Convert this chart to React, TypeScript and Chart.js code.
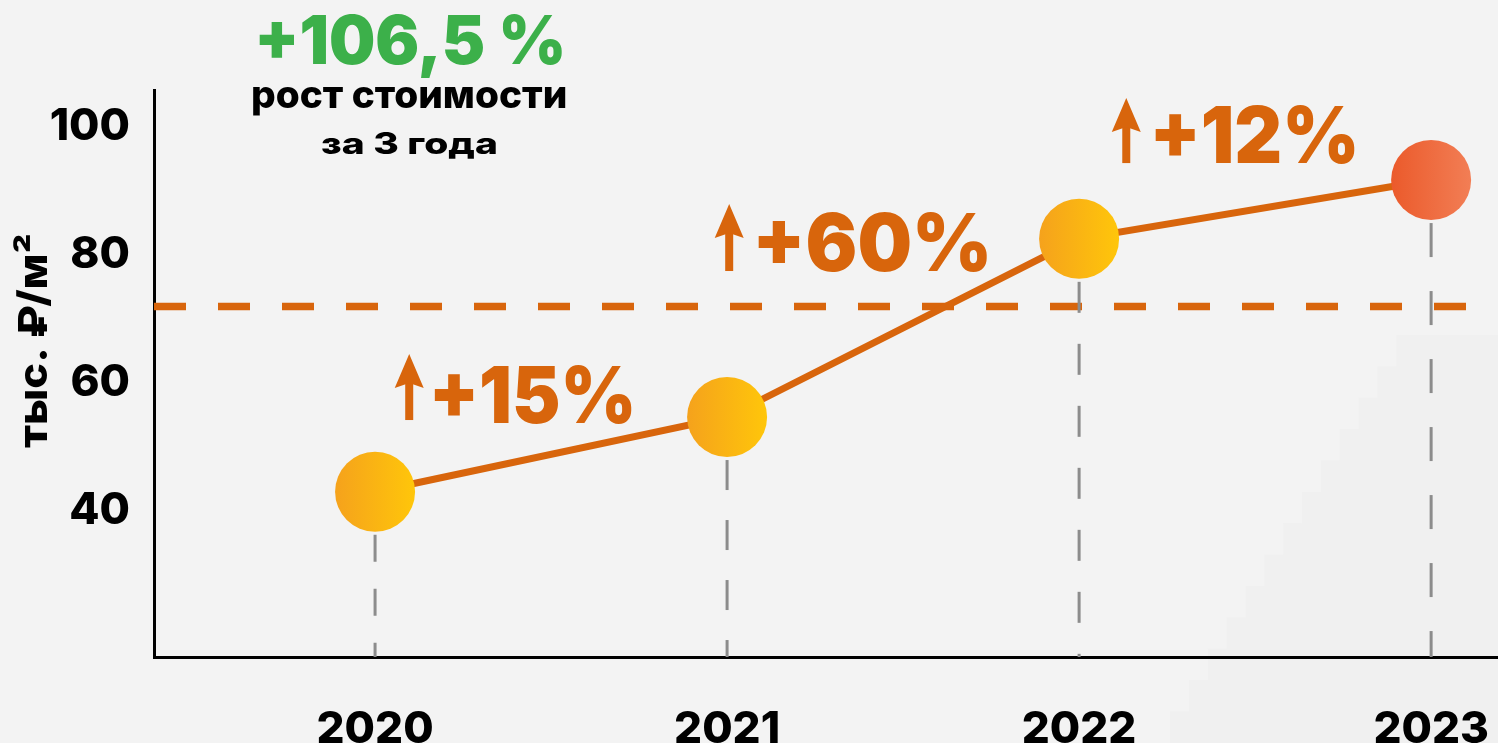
import React, { useEffect, useRef } from "react";
import { Chart, registerables } from "chart.js";

Chart.register(...registerables);

// ---------- data ----------
const years = [2020, 2021, 2022, 2023];
const prices = [42.9, 54.6, 82.5, 91.7]; // тыс. ₽/м²
const referenceLevel = 71.9;
const yTickValues = [40, 60, 80, 100];
const growthLabels = ["+15%", "+60%", "+12%"];
const totalGrowth = "+106,5 %";
const subtitleLines = ["рост стоимости", "за 3 года"];
const yAxisTitle = "тыс. ₽/м²";

// ---------- layout / style (not data) ----------
const X_MIN = 2019.372;
const X_MAX = 2023.19;
const Y_MIN = 17.03;
const Y_MAX = 105.8;
const REF_END_X = 2023.1;
const FONT = '"Inter", "DejaVu Sans", sans-serif';
const ORANGE = "#d8650c";
const GREEN = "#3cb04a";
const YELLOW_STOPS = ["#f5a21c", "#ffc60a"];
const RED_STOPS = ["#eb5a2b", "#f27e55"];
const POINT_R = 40;
const guideDashes = [[27, 27], [30, 30], [31, 31], [34, 34]];

// annotation boxes in data coordinates
const growthLayout = [
  { arrowX: 2020.097, left: 2020.168, right: 2020.73, top: 62.74, base: 53.66, aTop: 64.46, aBot: 54.13 },
  { arrowX: 2021.006, left: 2021.088, right: 2021.739, top: 86.69, base: 77.46, aTop: 87.95, aBot: 77.46 },
  { arrowX: 2022.134, left: 2022.216, right: 2022.784, top: 103.44, base: 94.36, aTop: 104.54, aBot: 94.36 },
];

function drawFitted(
  ctx: CanvasRenderingContext2D,
  text: string,
  left: number,
  right: number,
  top: number,
  base: number,
  weight: string,
  color: string
) {
  ctx.save();
  ctx.textAlign = "left";
  ctx.textBaseline = "alphabetic";
  ctx.font = `${weight} 100px ${FONT}`;
  let m = ctx.measureText(text);
  const asc = m.actualBoundingBoxAscent || 72;
  const size = (100 * (base - top)) / asc;
  ctx.font = `${weight} ${size}px ${FONT}`;
  m = ctx.measureText(text);
  const gw = (m.actualBoundingBoxLeft || 0) + (m.actualBoundingBoxRight || m.width);
  const sx = (right - left) / gw;
  ctx.translate(left + (m.actualBoundingBoxLeft || 0) * sx, base);
  ctx.scale(sx, 1);
  ctx.fillStyle = color;
  ctx.fillText(text, 0, 0);
  ctx.restore();
}

const overlayPlugin = {
  id: "overlay",
  beforeDraw(chart: any) {
    const { ctx, width, height } = chart;
    ctx.save();
    ctx.fillStyle = "#f3f3f3";
    ctx.fillRect(0, 0, width, height);
    // faint stair-step background shading at the right
    ctx.fillStyle = "#f0f0f0";
    ctx.beginPath();
    ctx.moveTo(1170, height);
    let x = 1170;
    let y = height;
    const steps = 13;
    for (let i = 0; i < steps; i++) {
      y -= (743 - 335) / steps;
      ctx.lineTo(x, y);
      x += (1415 - 1170) / steps;
      ctx.lineTo(x, y);
    }
    ctx.lineTo(width, y);
    ctx.lineTo(width, height);
    ctx.closePath();
    ctx.fill();
    ctx.restore();
  },
  afterDatasetDraw(chart: any, args: any) {
    if (args.index !== 1) return;
    const meta = chart.getDatasetMeta(0);
    const bottom = chart.chartArea.bottom;
    const ctx = chart.ctx;
    ctx.save();
    ctx.strokeStyle = "#8c8c8c";
    ctx.lineWidth = 3;
    meta.data.forEach((pt: any, i: number) => {
      ctx.setLineDash(guideDashes[i] || [30, 30]);
      ctx.beginPath();
      ctx.moveTo(pt.x, pt.y + POINT_R + 3);
      ctx.lineTo(pt.x, bottom);
      ctx.stroke();
    });
    ctx.restore();
  },
  afterDatasetsDraw(chart: any) {
    const ctx = chart.ctx;
    const xs = chart.scales.x;
    const ys = chart.scales.y;
    // growth annotations
    growthLayout.forEach((g, i) => {
      const ax = xs.getPixelForValue(g.arrowX);
      const aTop = ys.getPixelForValue(g.aTop);
      const aBot = ys.getPixelForValue(g.aBot);
      ctx.save();
      ctx.fillStyle = ORANGE;
      const headH = 34;
      const notch = 5;
      const half = 14.5;
      ctx.fillRect(ax - 4, aTop + headH - notch - 1, 8, aBot - (aTop + headH - notch - 1));
      ctx.beginPath();
      ctx.moveTo(ax, aTop);
      ctx.lineTo(ax + half, aTop + headH);
      ctx.lineTo(ax, aTop + headH - notch);
      ctx.lineTo(ax - half, aTop + headH);
      ctx.closePath();
      ctx.fill();
      ctx.restore();
      drawFitted(
        ctx,
        growthLabels[i],
        xs.getPixelForValue(g.left),
        xs.getPixelForValue(g.right),
        ys.getPixelForValue(g.top),
        ys.getPixelForValue(g.base),
        "900",
        ORANGE
      );
    });
    // headline
    drawFitted(ctx, totalGrowth, 259, 562, 14, 64, "900", GREEN);
    drawFitted(ctx, subtitleLines[0], 253, 566, 87, 108, "800", "#000");
    drawFitted(ctx, subtitleLines[1], 321, 496, 132, 154, "800", "#000");
    // y axis title (rotated)
    ctx.save();
    ctx.translate(47, 448);
    ctx.rotate(-Math.PI / 2);
    drawFitted(ctx, yAxisTitle, 0, 213, -34, 0, "800", "#000");
    ctx.restore();
  },
};

function pointFill(c: any) {
  const stops = c.dataIndex === prices.length - 1 ? RED_STOPS : YELLOW_STOPS;
  const chart = c.chart;
  const xs = chart.scales && chart.scales.x;
  if (!chart.chartArea || !xs || !c.parsed) return stops[1];
  const px = xs.getPixelForValue(c.parsed.x);
  const g = chart.ctx.createLinearGradient(px - POINT_R, 0, px + POINT_R, 0);
  g.addColorStop(0, stops[0]);
  g.addColorStop(1, stops[1]);
  return g;
}

export default function App() {
  const ref = useRef<HTMLCanvasElement | null>(null);

  useEffect(() => {
    if (!ref.current) return;
    const chart = new Chart(ref.current, {
      type: "line",
      data: {
        datasets: [
          {
            data: years.map((y, i) => ({ x: y, y: prices[i] })),
            borderColor: ORANGE,
            borderWidth: 7,
            pointRadius: POINT_R,
            pointHoverRadius: POINT_R,
            pointBorderWidth: 0,
            pointBackgroundColor: pointFill as any,
            order: 0,
            clip: false as any,
          },
          {
            data: [
              { x: X_MIN, y: referenceLevel },
              { x: REF_END_X, y: referenceLevel },
            ],
            borderColor: ORANGE,
            borderWidth: 7.5,
            borderDash: [32, 32],
            borderCapStyle: "butt",
            pointRadius: 0,
            order: 1,
          },
        ],
      },
      options: {
        animation: false,
        responsive: true,
        maintainAspectRatio: false,
        events: [],
        layout: { autoPadding: false, padding: { top: 90, left: 0, right: 0, bottom: 0 } },
        plugins: { legend: { display: false }, tooltip: { enabled: false } },
        scales: {
          x: {
            type: "linear",
            min: X_MIN,
            max: X_MAX,
            grid: { display: false },
            border: { display: true, color: "#000", width: 3 },
            afterBuildTicks: (s: any) => {
              s.ticks = years.map((v) => ({ value: v }));
            },
            afterFit: (s: any) => {
              s.height = 86;
              s.paddingLeft = 0;
              s.paddingRight = 0;
              s.paddingTop = 0;
              s.paddingBottom = 0;
            },
            ticks: {
              padding: 38,
              color: "#000",
              maxRotation: 0,
              autoSkip: false,
              font: { family: FONT, size: 44, weight: "800" as any },
              callback: (v: any) => String(v),
            },
          },
          y: {
            type: "linear",
            min: Y_MIN,
            max: Y_MAX,
            grid: { display: false },
            border: { display: true, color: "#000", width: 3 },
            afterBuildTicks: (s: any) => {
              s.ticks = yTickValues.map((v) => ({ value: v }));
            },
            afterFit: (s: any) => {
              s.width = 154;
              s.paddingLeft = 0;
              s.paddingRight = 0;
              s.paddingTop = 0;
              s.paddingBottom = 0;
            },
            ticks: {
              padding: 16,
              color: "#000",
              autoSkip: false,
              font: { family: FONT, size: 44, weight: "800" as any },
              callback: (v: any) => String(v),
            },
          },
        },
      },
      plugins: [overlayPlugin as any],
    });

    const fonts: any = (document as any).fonts;
    if (fonts && fonts.load) {
      Promise.all([
        fonts.load(`800 44px Inter`),
        fonts.load(`900 44px Inter`),
      ])
        .then(() => chart.update())
        .catch(() => {});
    }
    return () => chart.destroy();
  }, []);

  return (
    <div style={{ position: "absolute", left: 0, top: 0, width: 1498, height: 743 }}>
      <canvas ref={ref} />
    </div>
  );
}
